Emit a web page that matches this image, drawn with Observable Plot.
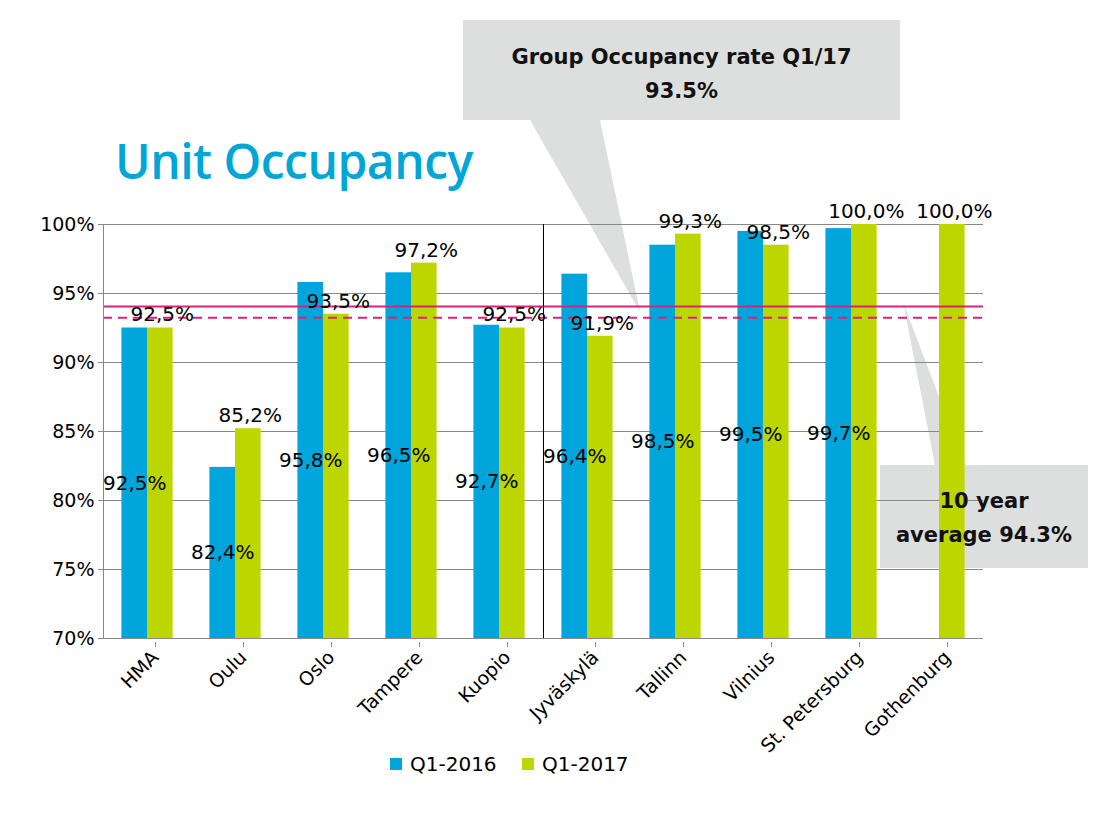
<!DOCTYPE html>
<html><head><meta charset="utf-8">
<script src="https://cdn.jsdelivr.net/npm/d3@7"></script>
<script src="https://cdn.jsdelivr.net/npm/@observablehq/plot@0.6"></script>
<style>
body{margin:0;background:#fff;font-family:"DejaVu Sans",sans-serif;}
#wrap{position:relative;width:1106px;height:827px;overflow:hidden}
#chart{position:absolute;left:0;top:0}
#title{position:absolute;left:115px;top:128px;font:600 48px "Open Sans",sans-serif;color:#00A6D6;letter-spacing:-0.5px}
.lg{position:absolute;top:752px;font:20px "DejaVu Sans",sans-serif;color:#000;display:flex;align-items:center}
.sw{width:12px;height:12px;display:inline-block;margin-right:8px}
.co{position:absolute;text-align:center;font:bold 21px "DejaVu Sans",sans-serif;color:#111;line-height:34px}
</style></head><body>
<div id="wrap">
<svg width="1106" height="827" style="position:absolute;left:0;top:0">
<polygon points="463,20 900,20 900,120 600,120 640,312 530,120 463,120" fill="#DDDEDE"/>
<polygon points="880,465 935,465 903,302 965,465 1088,465 1088,568 880,568" fill="#DDDEDE"/>
</svg>
<div id="chart"></div>
<div id="title">Unit Occupancy</div>
<div class="co" style="left:463px;top:40px;width:437px">Group Occupancy rate Q1/17<br>93.5%</div>
<div class="co" style="left:880px;top:484px;width:208px">10 year<br>average 94.3%</div>
<div class="lg" style="left:390px"><span class="sw" style="background:#00A6DB"></span>Q1-2016</div>
<div class="lg" style="left:522px"><span class="sw" style="background:#BDD600"></span>Q1-2017</div>
</div>
<script>
const cities = ["HMA","Oulu","Oslo","Tampere","Kuopio","Jyväskylä","Tallinn","Vilnius","St. Petersburg","Gothenburg"];
const q2016 = [92.5,82.4,95.8,96.5,92.7,96.4,98.5,99.5,99.7,null];
const q2017 = [92.5,85.2,93.5,97.2,92.5,91.9,99.3,98.5,100.0,100.0];
const yTicks = [70,75,80,85,90,95,100];
const groupLine = 94.05, avgLine = 93.25;

const fmt = v => v.toFixed(1).replace(".", ",") + "%";
const d16 = cities.map((c,i)=>({city:c,v:q2016[i]})).filter(d=>d.v!=null);
const d17 = cities.map((c,i)=>({city:c,v:q2017[i]}));
const bw = 88, half = 25.6, pad = (bw - 2*half)/2;
const font = "DejaVu Sans";
const chart = Plot.plot({
  width: 1106, height: 790,
  marginTop: 224, marginLeft: 103, marginRight: 123, marginBottom: 152,
  style: {fontFamily: font, fontSize: "19px", color: "#000", background: "transparent"},
  x: {domain: cities, padding: 0, label: null},
  y: {domain: [70,100], label: null},
  marks: [
    Plot.gridY(yTicks, {stroke: "#888", strokeOpacity: 1, strokeWidth: 1}),
    Plot.barY(d16, {x: "city", y1: 70, y2: "v", fill: "#00A6DB", insetLeft: pad, insetRight: pad+half}),
    Plot.barY(d17, {x: "city", y1: 70, y2: "v", fill: "#BDD600", insetLeft: pad+half, insetRight: pad}),
    Plot.ruleY([groupLine], {stroke: "#D6247B", strokeWidth: 2}),
    Plot.ruleY([avgLine], {stroke: "#D6247B", strokeWidth: 2, strokeDasharray: "9,6"}),
    Plot.text(d16, {x: "city", y: d => (70 + d.v)/2, text: d => fmt(d.v), dx: -(half/2), fontSize: 20, fill: "#000"}),
    Plot.text(d17, {x: "city", y: "v", text: d => fmt(d.v), dx: half/2 + 2, dy: -13, fontSize: 20, fill: "#000"}),
    Plot.axisY(yTicks, {tickFormat: d => d + "%", fontSize: 19, tickSize: 5, stroke: "#888"}),
    Plot.ruleX([70], {x: null, y: null}),
    Plot.axisX({tickRotate: -45, fontSize: 19, tickSize: 5, stroke: "#888", textAnchor: "end", dx: 8, dy: 4}),
    Plot.ruleY([70], {stroke: "#888"}),
    Plot.ruleX([cities[0]], {dx: -bw/2, y1: 70, y2: 100, stroke: "#888"})
  ]
});
document.getElementById("chart").appendChild(chart);
</script>
</body></html>
